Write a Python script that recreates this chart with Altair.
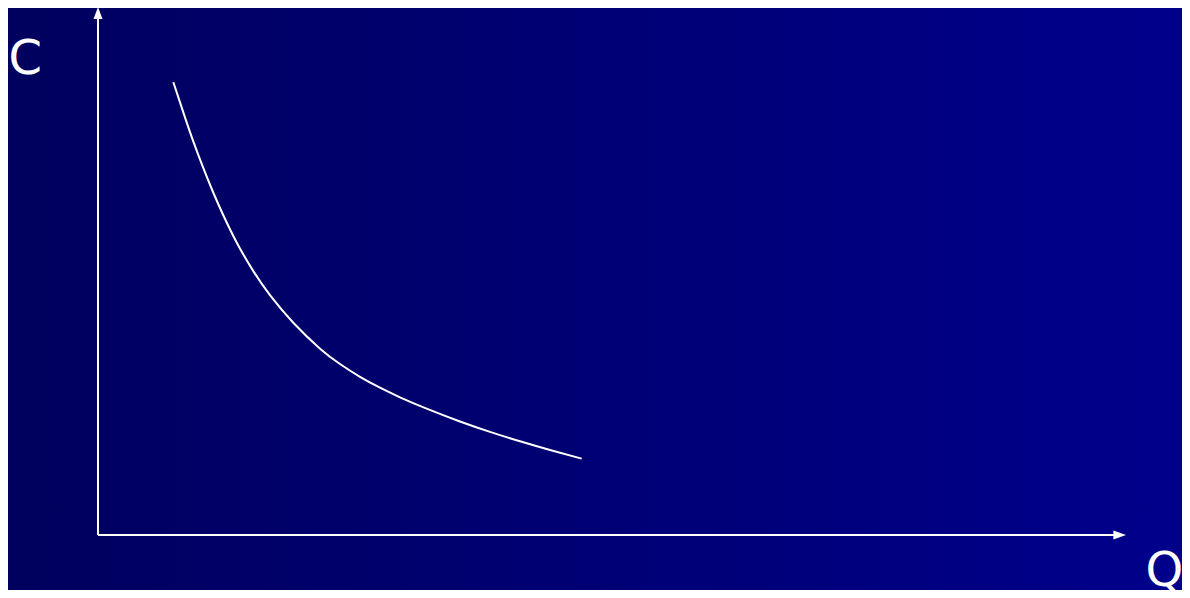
import altair as alt
import pandas as pd

# Curve readings (Q, C) in arbitrary units: both axes run 0..10
q_vals = [0.733, 0.830, 0.927, 1.024, 1.122, 1.219, 1.349, 1.511, 1.673, 1.900, 2.160,
          2.354, 2.549, 2.743, 2.938, 3.197, 3.521, 3.813, 4.105, 4.397, 4.705]
c_vals = [8.560, 7.990, 7.440, 6.940, 6.470, 6.045, 5.531, 4.988, 4.534, 4.012, 3.523,
          3.232, 2.990, 2.784, 2.603, 2.388, 2.145, 1.949, 1.771, 1.607, 1.444]

# Axis labels
axis_labels = ["C", "Q"]
label_q = [-0.87, 10.19]
label_c = [8.71, -0.96]

W, H = 1174, 582
BG_LEFT, BG_RIGHT = "#00005E", "#00008B"

xs = alt.Scale(domain=[0, 10], range=[90, 1118], zero=False, nice=False)
ys = alt.Scale(domain=[0, 10], range=[527, -2], zero=False, nice=False)

curve_df = pd.DataFrame({"Q": q_vals, "C": c_vals})
labels_df = pd.DataFrame({"label": axis_labels, "Q": label_q, "C": label_c})

bg = alt.Chart(pd.DataFrame({"a": [0]})).mark_rect(
    color=alt.Gradient(
        gradient="linear",
        stops=[alt.GradientStop(color=BG_LEFT, offset=0), alt.GradientStop(color=BG_RIGHT, offset=1)],
        x1=0, x2=1, y1=0, y2=0,
    )
).encode(x=alt.value(0), x2=alt.value(W), y=alt.value(0), y2=alt.value(H))

yaxis = alt.Chart(pd.DataFrame({"Q": [0], "C0": [0], "C1": [9.8]})).mark_rule(
    color="white", strokeWidth=2
).encode(
    x=alt.X("Q:Q", scale=xs, axis=None),
    y=alt.Y("C0:Q", scale=ys, axis=None),
    y2="C1:Q",
)

xaxis = alt.Chart(pd.DataFrame({"C": [0], "Q0": [0], "Q1": [9.9]})).mark_rule(
    color="white", strokeWidth=2
).encode(
    y=alt.Y("C:Q", scale=ys, axis=None),
    x=alt.X("Q0:Q", scale=xs, axis=None),
    x2="Q1:Q",
)

arrow_up = alt.Chart(pd.DataFrame({"Q": [0], "C": [9.98]})).mark_point(
    shape="M0,0L0.75,2L-0.75,2Z", size=144, filled=True, color="white", opacity=1, strokeWidth=0
).encode(x=alt.X("Q:Q", scale=xs, axis=None), y=alt.Y("C:Q", scale=ys, axis=None))

arrow_right = alt.Chart(pd.DataFrame({"Q": [10.0], "C": [0]})).mark_point(
    shape="M0,0L-2.1,-0.75L-2.1,0.75Z", size=144, filled=True, color="white", opacity=1, strokeWidth=0
).encode(x=alt.X("Q:Q", scale=xs, axis=None), y=alt.Y("C:Q", scale=ys, axis=None))

curve = alt.Chart(curve_df).mark_line(
    color="white", strokeWidth=2, interpolate="natural"
).encode(x=alt.X("Q:Q", scale=xs, axis=None), y=alt.Y("C:Q", scale=ys, axis=None))

labels = alt.Chart(labels_df).mark_text(
    font="DejaVu Sans", fontSize=48, color="white", align="left", baseline="alphabetic"
).encode(
    x=alt.X("Q:Q", scale=xs, axis=None),
    y=alt.Y("C:Q", scale=ys, axis=None),
    text="label:N",
)

chart = alt.layer(bg, yaxis, xaxis, arrow_up, arrow_right, curve, labels).properties(
    width=W, height=H, padding=0, autosize=alt.AutoSizeParams(type="none"), background=BG_LEFT
).configure_view(stroke=None, clip=False)

chart.save("out.html", embed_options={"renderer": "svg", "actions": False})
